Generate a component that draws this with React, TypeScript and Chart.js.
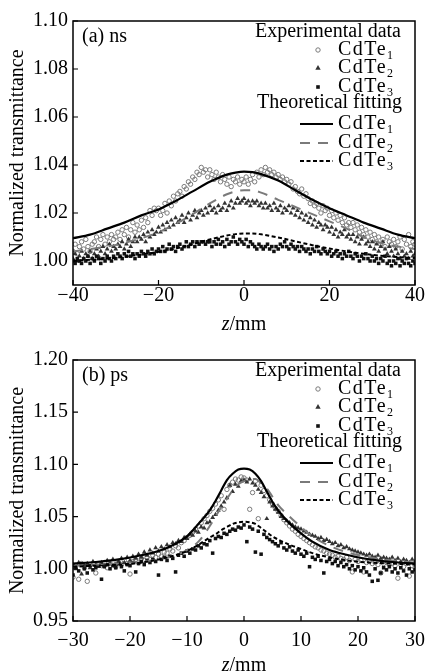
import React, { useEffect, useRef } from 'react';
import { Chart, registerables } from 'chart.js';
Chart.register(...registerables);

const FONT = '"Liberation Serif", "Times New Roman", serif';

// ---------- Panel (a): ns ----------
const zA = [
  -40, -39.5, -39, -38.5, -38, -37.5, -37, -36.5, -36, -35.5,
  -35, -34.5, -34, -33.5, -33, -32.5, -32, -31.5, -31, -30.5,
  -30, -29.5, -29, -28.5, -28, -27.5, -27, -26.5, -26, -25.5,
  -25, -24.5, -24, -23.5, -23, -22.5, -22, -21.5, -21, -20.5,
  -20, -19.5, -19, -18.5, -18, -17.5, -17, -16.5, -16, -15.5,
  -15, -14.5, -14, -13.5, -13, -12.5, -12, -11.5, -11, -10.5,
  -10, -9.5, -9, -8.5, -8, -7.5, -7, -6.5, -6, -5.5,
  -5, -4.5, -4, -3.5, -3, -2.5, -2, -1.5, -1, -0.5,
  0, 0.5, 1, 1.5, 2, 2.5, 3, 3.5, 4, 4.5,
  5, 5.5, 6, 6.5, 7, 7.5, 8, 8.5, 9, 9.5,
  10, 10.5, 11, 11.5, 12, 12.5, 13, 13.5, 14, 14.5,
  15, 15.5, 16, 16.5, 17, 17.5, 18, 18.5, 19, 19.5,
  20, 20.5, 21, 21.5, 22, 22.5, 23, 23.5, 24, 24.5,
  25, 25.5, 26, 26.5, 27, 27.5, 28, 28.5, 29, 29.5,
  30, 30.5, 31, 31.5, 32, 32.5, 33, 33.5, 34, 34.5,
  35, 35.5, 36, 36.5, 37, 37.5, 38, 38.5, 39, 39.5,
  40,
];
const expA1 = [
  1.004, 1.007, 1.003, 1.006, 1.008, 1.005, 1.009, 1.006, 1.004, 1.007,
  1.008, 1.010, 1.006, 1.009, 1.011, 1.007, 1.010, 1.008, 1.011, 1.009,
  1.010, 1.012, 1.009, 1.013, 1.011, 1.014, 1.010, 1.013, 1.016, 1.012,
  1.015, 1.013, 1.017, 1.014, 1.018, 1.016, 1.021, 1.019, 1.022, 1.021,
  1.022, 1.019, 1.021, 1.024, 1.020, 1.025, 1.023, 1.027, 1.025, 1.028,
  1.029, 1.027, 1.031, 1.030, 1.033, 1.032, 1.035, 1.034, 1.037, 1.036,
  1.039, 1.037, 1.038, 1.035, 1.038, 1.036, 1.034, 1.037, 1.035, 1.033,
  1.036, 1.034, 1.032, 1.035, 1.031, 1.034, 1.033, 1.035, 1.032, 1.034,
  1.033, 1.035, 1.032, 1.034, 1.036, 1.033, 1.037, 1.035, 1.038, 1.036,
  1.039, 1.037, 1.038, 1.036, 1.037, 1.035, 1.036, 1.034, 1.035, 1.033,
  1.034, 1.032, 1.033, 1.030, 1.031, 1.029, 1.028, 1.030, 1.027, 1.028,
  1.026, 1.024, 1.025, 1.023, 1.024, 1.022, 1.020, 1.023, 1.021, 1.022,
  1.019, 1.021, 1.018, 1.020, 1.017, 1.019, 1.016, 1.018, 1.015, 1.016,
  1.014, 1.016, 1.013, 1.015, 1.012, 1.014, 1.011, 1.013, 1.010, 1.012,
  1.009, 1.011, 1.008, 1.010, 1.007, 1.009, 1.006, 1.010, 1.008, 1.007,
  1.009, 1.006, 1.008, 1.010, 1.005, 1.009, 1.007, 1.011, 1.006, 1.008,
  1.007,
];
const expA2 = [
  1.001, 1.003, 1.000, 1.002, 1.004, 1.001, 1.003, 1.002, 1.004, 1.001,
  1.003, 1.005, 1.002, 1.004, 1.006, 1.003, 1.005, 1.007, 1.004, 1.006,
  1.005, 1.007, 1.006, 1.008, 1.005, 1.007, 1.009, 1.006, 1.008, 1.010,
  1.008, 1.010, 1.009, 1.011, 1.008, 1.012, 1.010, 1.013, 1.011, 1.012,
  1.014, 1.012, 1.015, 1.013, 1.016, 1.014, 1.017, 1.015, 1.018, 1.016,
  1.017, 1.019, 1.016, 1.018, 1.020, 1.017, 1.019, 1.021, 1.018, 1.020,
  1.021, 1.019, 1.022, 1.020, 1.023, 1.021, 1.022, 1.020, 1.023, 1.021,
  1.022, 1.024, 1.021, 1.023, 1.025, 1.022, 1.024, 1.026, 1.024, 1.025,
  1.026, 1.024, 1.025, 1.023, 1.025, 1.024, 1.025, 1.023, 1.024, 1.022,
  1.024, 1.022, 1.023, 1.021, 1.024, 1.022, 1.021, 1.023, 1.020, 1.022,
  1.021, 1.023, 1.020, 1.022, 1.019, 1.021, 1.018, 1.020, 1.017, 1.019,
  1.016, 1.018, 1.015, 1.017, 1.014, 1.016, 1.015, 1.013, 1.015, 1.014,
  1.012, 1.014, 1.011, 1.013, 1.010, 1.012, 1.011, 1.013, 1.010, 1.011,
  1.009, 1.011, 1.008, 1.010, 1.007, 1.009, 1.010, 1.007, 1.008, 1.006,
  1.008, 1.005, 1.007, 1.004, 1.006, 1.008, 1.005, 1.003, 1.006, 1.004,
  1.002, 1.005, 1.003, 1.001, 1.004, 1.002, 1.003, 1.001, 1.004, 1.002,
  1.003,
];
const expA3 = [
  1.000, 0.999, 1.001, 1.000, 0.999, 1.001, 1.000, 1.002, 0.999, 1.001,
  1.000, 1.002, 1.001, 0.999, 1.001, 1.000, 1.002, 1.001, 1.000, 1.002,
  1.001, 1.003, 1.002, 1.001, 1.003, 1.002, 1.004, 1.002, 1.003, 1.001,
  1.003, 1.002, 1.004, 1.003, 1.002, 1.004, 1.003, 1.005, 1.003, 1.004,
  1.005, 1.004, 1.006, 1.004, 1.005, 1.007, 1.005, 1.006, 1.004, 1.006,
  1.007, 1.005, 1.006, 1.008, 1.006, 1.007, 1.008, 1.006, 1.008, 1.007,
  1.008, 1.008, 1.007, 1.008, 1.008, 1.006, 1.008, 1.007, 1.009, 1.007,
  1.008, 1.006, 1.009, 1.007, 1.008, 1.010, 1.008, 1.007, 1.009, 1.008,
  1.007, 1.009, 1.006, 1.008, 1.007, 1.006, 1.005, 1.007, 1.006, 1.005,
  1.006, 1.007, 1.005, 1.006, 1.004, 1.006, 1.005, 1.007, 1.006, 1.008,
  1.006, 1.005, 1.007, 1.006, 1.005, 1.006, 1.004, 1.006, 1.005, 1.004,
  1.005, 1.003, 1.005, 1.004, 1.006, 1.004, 1.003, 1.005, 1.004, 1.003,
  1.004, 1.002, 1.003, 1.004, 1.002, 1.003, 1.001, 1.003, 1.002, 1.004,
  1.002, 1.001, 1.003, 1.002, 1.000, 1.002, 1.001, 1.003, 1.001, 1.000,
  1.002, 1.000, 1.001, 0.999, 1.001, 1.000, 1.002, 0.999, 1.000, 0.998,
  1.000, 0.999, 1.001, 0.998, 1.000, 0.999, 1.001, 0.999, 0.998, 1.000,
  0.999,
];
const fitZA = [-40, -36, -32, -28, -24, -20, -16, -12, -8, -4, -2, 0, 2, 4, 8, 12, 16, 20, 24, 28, 32, 36, 40];
const fitA1 = [1.0095, 1.011, 1.0135, 1.016, 1.019, 1.0215, 1.025, 1.029, 1.033, 1.036, 1.0368, 1.0372, 1.037, 1.0362, 1.0335, 1.0295, 1.0255, 1.022, 1.019, 1.016, 1.0135, 1.011, 1.0095];
const fitA2 = [1.004, 1.005, 1.006, 1.0075, 1.0095, 1.012, 1.0155, 1.0195, 1.024, 1.0278, 1.029, 1.0295, 1.0295, 1.0285, 1.0255, 1.0225, 1.0195, 1.0165, 1.0135, 1.010, 1.0075, 1.006, 1.005];
const fitA3 = [1.0, 1.0005, 1.001, 1.0018, 1.0027, 1.0038, 1.0052, 1.007, 1.009, 1.0106, 1.0112, 1.0115, 1.0115, 1.0111, 1.0098, 1.0082, 1.0066, 1.0052, 1.004, 1.003, 1.0022, 1.0016, 1.0012];
const xTicksA = [-40, -20, 0, 20, 40];
const yTicksA = [1.0, 1.02, 1.04, 1.06, 1.08, 1.1];

// ---------- Panel (b): ps ----------
const zB = [
  -30, -29.5, -29, -28.5, -28, -27.5, -27, -26.5, -26, -25.5,
  -25, -24.5, -24, -23.5, -23, -22.5, -22, -21.5, -21, -20.5,
  -20, -19.5, -19, -18.5, -18, -17.5, -17, -16.5, -16, -15.5,
  -15, -14.5, -14, -13.5, -13, -12.5, -12, -11.5, -11, -10.5,
  -10, -9.5, -9, -8.5, -8, -7.5, -7, -6.5, -6, -5.5,
  -5, -4.5, -4, -3.5, -3, -2.5, -2, -1.5, -1, -0.5,
  0, 0.5, 1, 1.5, 2, 2.5, 3, 3.5, 4, 4.5,
  5, 5.5, 6, 6.5, 7, 7.5, 8, 8.5, 9, 9.5,
  10, 10.5, 11, 11.5, 12, 12.5, 13, 13.5, 14, 14.5,
  15, 15.5, 16, 16.5, 17, 17.5, 18, 18.5, 19, 19.5,
  20, 20.5, 21, 21.5, 22, 22.5, 23, 23.5, 24, 24.5,
  25, 25.5, 26, 26.5, 27, 27.5, 28, 28.5, 29, 29.5,
  30,
];
const expB1 = [
  0.992, 1.003, 0.990, 1.005, 1.001, 0.988, 1.004, 1.002, 0.996, 1.004,
  1.003, 1.006, 1.001, 1.005, 1.007, 1.002, 1.006, 1.004, 1.008, 1.005,
  0.995, 1.007, 1.009, 1.006, 1.010, 1.008, 1.011, 1.009, 1.013, 1.011,
  1.014, 1.012, 1.016, 1.015, 1.019, 1.017, 1.022, 1.020, 1.025, 1.027,
  1.030, 1.032, 1.035, 1.038, 1.041, 1.044, 1.048, 1.051, 1.055, 1.058,
  1.062, 1.066, 1.070, 1.057, 1.076, 1.080, 1.083, 1.086, 1.085, 1.088,
  1.087, 1.085, 1.057, 1.073, 1.084, 1.048, 1.080, 1.075, 1.070, 1.066,
  1.062, 1.058, 1.055, 1.051, 1.047, 1.044, 1.041, 1.038, 1.036, 1.033,
  1.031, 1.029, 1.027, 1.025, 1.023, 1.021, 1.020, 1.018, 1.017, 1.015,
  1.014, 1.013, 1.011, 1.012, 1.010, 1.009, 1.011, 1.008, 0.997, 1.009,
  1.007, 1.008, 0.997, 1.006, 1.007, 1.005, 1.006, 1.004, 0.996, 1.005,
  1.006, 1.004, 1.005, 1.003, 0.991, 1.004, 1.002, 1.005, 0.993, 1.003,
  1.001,
];
const expB2 = [
  1.004, 1.000, 1.006, 0.995, 1.003, 1.005, 1.001, 1.007, 1.004, 1.002,
  1.006, 1.003, 1.008, 1.005, 1.009, 1.004, 1.007, 1.010, 1.006, 1.011,
  1.008, 1.012, 1.010, 1.014, 1.011, 1.016, 1.013, 1.018, 1.015, 1.020,
  1.017, 1.021, 1.019, 1.023, 1.021, 1.025, 1.024, 1.027, 1.026, 1.030,
  1.029, 1.033, 1.032, 1.036, 1.035, 1.040, 1.039, 1.044, 1.045, 1.049,
  1.052, 1.056, 1.060, 1.064, 1.068, 1.080, 1.074, 1.081, 1.079, 1.084,
  1.085, 1.083, 1.086, 1.082, 1.080, 1.076, 1.073, 1.069, 1.048, 1.064,
  1.060, 1.057, 1.054, 1.050, 1.048, 1.046, 1.044, 1.042, 1.040, 1.039,
  1.038, 1.036, 1.035, 1.033, 1.032, 1.031, 1.029, 1.030, 1.027, 1.028,
  1.026, 1.024, 1.025, 1.022, 1.023, 1.020, 1.021, 1.019, 1.018, 1.017,
  1.016, 1.015, 1.014, 1.013, 1.014, 1.012, 1.011, 1.013, 1.010, 1.011,
  1.010, 1.009, 1.011, 1.008, 1.010, 1.007, 1.009, 1.008, 1.006, 1.009,
  1.007,
];
const expB3 = [
  0.994, 1.002, 0.998, 1.004, 1.000, 0.996, 1.003, 0.999, 1.001, 1.003,
  0.990, 1.002, 1.004, 1.000, 1.003, 1.001, 1.005, 1.002, 0.998, 1.004,
  1.003, 1.006, 0.997, 1.005, 1.007, 1.004, 1.008, 1.006, 1.009, 1.007,
  0.994, 1.009, 1.011, 1.008, 1.012, 1.010, 0.997, 1.013, 1.015, 1.012,
  1.017, 1.015, 1.019, 1.018, 1.022, 1.020, 1.024, 1.023, 1.027, 1.015,
  1.029, 1.031, 1.030, 1.034, 1.033, 1.036, 1.038, 1.037, 1.040, 1.039,
  1.042, 1.026, 1.040, 1.038, 1.016, 1.036, 1.014, 1.033, 1.030, 1.028,
  1.026, 1.024, 1.022, 1.025, 1.020, 1.018, 1.021, 1.017, 1.015, 1.018,
  1.014, 1.012, 1.015, 1.002, 1.011, 1.009, 1.012, 1.008, 0.996, 1.007,
  1.009, 1.005, 1.007, 1.003, 1.006, 1.002, 1.004, 1.000, 1.003, 0.999,
  1.002, 0.998, 1.001, 0.997, 0.994, 0.988, 1.000, 0.989, 0.996, 1.001,
  0.999, 1.002, 0.997, 1.000, 0.996, 1.001, 0.998, 0.994, 1.000, 0.997,
  0.999,
];
const fitZB = [-30, -26, -22, -18, -15, -12, -10, -8, -6, -5, -4, -3, -2, -1, 0, 1, 2, 3, 4, 5, 6, 8, 10, 12, 15, 18, 22, 26, 30];
const fitB1 = [1.005, 1.0065, 1.009, 1.013, 1.017, 1.024, 1.031, 1.043, 1.056, 1.065, 1.075, 1.085, 1.091, 1.095, 1.096, 1.095, 1.091, 1.084, 1.074, 1.064, 1.056, 1.0435, 1.034, 1.026, 1.018, 1.0135, 1.009, 1.0065, 1.005];
const fitB2 = [1.003, 1.004, 1.005, 1.007, 1.009, 1.013, 1.018, 1.026, 1.041, 1.05, 1.059, 1.067, 1.075, 1.081, 1.084, 1.086, 1.086, 1.082, 1.077, 1.069, 1.061, 1.05, 1.04, 1.031, 1.022, 1.016, 1.011, 1.008, 1.006];
const fitB3 = [1.002, 1.003, 1.004, 1.006, 1.009, 1.013, 1.017, 1.023, 1.03, 1.033, 1.037, 1.04, 1.043, 1.0445, 1.045, 1.0445, 1.043, 1.039, 1.035, 1.031, 1.028, 1.023, 1.019, 1.015, 1.011, 1.008, 1.006, 1.005, 1.004];
const xTicksB = [-30, -20, -10, 0, 10, 20, 30];
const yTicksB = [0.95, 1.0, 1.05, 1.1, 1.15, 1.2];

const seriesNames = ['CdTe', 'CdTe', 'CdTe'];
const seriesSubs = ['1', '2', '3'];

const pts = (xs: number[], ys: number[]) => xs.map((x, i) => ({ x, y: ys[i] }));

const C_GRAY = '#7a7a7a';
const C_TRI = '#333333';
const C_SQ = '#111111';

function drawMarker(ctx: CanvasRenderingContext2D, kind: number, x: number, y: number) {
  ctx.save();
  if (kind === 0) {
    ctx.strokeStyle = C_GRAY;
    ctx.lineWidth = 1;
    ctx.beginPath();
    ctx.arc(x, y, 2.2, 0, Math.PI * 2);
    ctx.stroke();
  } else if (kind === 1) {
    ctx.fillStyle = C_TRI;
    ctx.beginPath();
    ctx.moveTo(x, y - 3);
    ctx.lineTo(x + 2.7, y + 1.8);
    ctx.lineTo(x - 2.7, y + 1.8);
    ctx.closePath();
    ctx.fill();
  } else {
    ctx.fillStyle = C_SQ;
    ctx.fillRect(x - 1.8, y - 1.8, 3.6, 3.6);
  }
  ctx.restore();
}

function drawSub(ctx: CanvasRenderingContext2D, name: string, sub: string, x: number, y: number) {
  ctx.save();
  ctx.font = `20px ${FONT}`;
  ctx.textAlign = 'left';
  ctx.textBaseline = 'middle';
  (ctx as any).letterSpacing = '1.5px';
  ctx.fillText(name, x, y);
  const w = ctx.measureText(name).width;
  (ctx as any).letterSpacing = '0px';
  ctx.font = `12px ${FONT}`;
  ctx.fillText(sub, x + w, y + 6);
  ctx.restore();
}

function makePlugin(label: string, titleGap: number) {
  return {
    id: 'decor',
    afterDraw(chart: any) {
      const { ctx, chartArea: a, scales } = chart;
      ctx.save();
      ctx.strokeStyle = '#000';
      ctx.lineWidth = 1.5;
      ctx.strokeRect(a.left, a.top, a.right - a.left, a.bottom - a.top);
      ctx.lineWidth = 1.2;
      ctx.beginPath();
      scales.x.ticks.forEach((t: any) => {
        const px = scales.x.getPixelForValue(t.value);
        ctx.moveTo(px, a.bottom);
        ctx.lineTo(px, a.bottom - 5);
      });
      scales.y.ticks.forEach((t: any) => {
        const py = scales.y.getPixelForValue(t.value);
        ctx.moveTo(a.left, py);
        ctx.lineTo(a.left + 5, py);
      });
      ctx.stroke();

      ctx.fillStyle = '#000';
      ctx.font = `20px ${FONT}`;
      ctx.textBaseline = 'middle';
      ctx.textAlign = 'left';
      ctx.fillText(label, a.left + 9, a.top + 16);

      // legend
      const R = a.right;
      const T = a.top;
      ctx.textAlign = 'right';
      ctx.fillText('Experimental data', R - 14, T + 11);
      const expRows = [T + 29, T + 47, T + 66];
      expRows.forEach((y, i) => {
        drawMarker(ctx, i, R - 97, y);
        ctx.fillStyle = '#000';
        drawSub(ctx, seriesNames[i], seriesSubs[i], R - 77, y);
      });
      ctx.font = `20px ${FONT}`;
      ctx.textAlign = 'right';
      ctx.textBaseline = 'middle';
      ctx.fillStyle = '#000';
      ctx.fillText('Theoretical fitting', R - 13, T + 82);
      const fitRows = [T + 103, T + 122, T + 140];
      const lineStyles = [
        { c: '#000', d: [] as number[], w: 2.2 },
        { c: C_GRAY, d: [10, 8], w: 2 },
        { c: '#000', d: [4, 2.5], w: 2 },
      ];
      fitRows.forEach((y, i) => {
        ctx.save();
        ctx.strokeStyle = lineStyles[i].c;
        ctx.lineWidth = lineStyles[i].w;
        ctx.setLineDash(lineStyles[i].d);
        ctx.beginPath();
        ctx.moveTo(R - 115, y);
        ctx.lineTo(R - 82, y);
        ctx.stroke();
        ctx.restore();
        ctx.fillStyle = '#000';
        drawSub(ctx, seriesNames[i], seriesSubs[i], R - 77, y);
      });

      // y title
      ctx.save();
      ctx.font = `20px ${FONT}`;
      ctx.textAlign = 'center';
      ctx.textBaseline = 'middle';
      ctx.translate(18, (a.top + a.bottom) / 2);
      ctx.rotate(-Math.PI / 2);
      ctx.fillText('Normalized transmittance', 0, 0);
      ctx.restore();

      // x title: italic z + /mm
      const cx = (a.left + a.right) / 2;
      const ty = a.bottom + titleGap;
      ctx.textBaseline = 'middle';
      ctx.textAlign = 'left';
      ctx.font = `italic 20px ${FONT}`;
      const wz = ctx.measureText('z').width;
      ctx.font = `20px ${FONT}`;
      const wr = ctx.measureText('/mm').width;
      const x0 = cx - (wz + wr) / 2;
      ctx.font = `italic 20px ${FONT}`;
      ctx.fillText('z', x0, ty);
      ctx.font = `20px ${FONT}`;
      ctx.fillText('/mm', x0 + wz, ty);
      ctx.restore();
    },
  };
}

function buildConfig(p: {
  label: string; zs: number[]; e1: number[]; e2: number[]; e3: number[];
  fz: number[]; f1: number[]; f2: number[]; f3: number[];
  xMin: number; xMax: number; xTicks: number[];
  yMin: number; yMax: number; yTicks: number[]; top: number; xPad: number; titleGap: number;
}): any {
  const lineDs = (data: number[], color: string, dash: number[], w: number) => ({
    data: pts(p.fz, data),
    showLine: true,
    borderColor: color,
    borderWidth: w,
    borderDash: dash,
    pointRadius: 0,
    cubicInterpolationMode: 'monotone',
    fill: false,
  });
  return {
    type: 'scatter',
    data: {
      datasets: [
        lineDs(p.f1, '#000', [], 2.2),
        lineDs(p.f3, '#000', [4, 2.5], 2),
        lineDs(p.f2, C_GRAY, [10, 8], 2),
        { data: pts(p.zs, p.e3), pointStyle: 'rect', pointRadius: 2.5, backgroundColor: C_SQ, borderColor: C_SQ, borderWidth: 0 },
        { data: pts(p.zs, p.e2), pointStyle: 'triangle', pointRadius: 2.8, backgroundColor: C_TRI, borderColor: C_TRI, borderWidth: 0 },
        { data: pts(p.zs, p.e1), pointStyle: 'circle', pointRadius: 2.2, backgroundColor: 'rgba(255,255,255,0)', borderColor: C_GRAY, borderWidth: 1 },
      ],
    },
    options: {
      responsive: false,
      animation: false,
      events: [],
      layout: { padding: { top: p.top, right: 11, left: 0, bottom: 0 } },
      plugins: { legend: { display: false }, tooltip: { enabled: false } },
      scales: {
        x: {
          type: 'linear',
          min: p.xMin,
          max: p.xMax,
          afterBuildTicks: (s: any) => { s.ticks = p.xTicks.map((v) => ({ value: v })); },
          afterFit: (s: any) => { s.height = 51; s.paddingLeft = 0; s.paddingRight = 0; },
          grid: { display: false, drawTicks: false },
          border: { display: false },
          ticks: {
            color: '#000',
            font: { family: FONT, size: 20 },
            padding: p.xPad,
            maxRotation: 0,
            callback: (v: number) => (v < 0 ? '\u2212' + Math.abs(v) : String(v)),
          },
        },
        y: {
          type: 'linear',
          min: p.yMin,
          max: p.yMax,
          afterBuildTicks: (s: any) => { s.ticks = p.yTicks.map((v) => ({ value: v })); },
          afterFit: (s: any) => { s.width = 73; },
          grid: { display: false, drawTicks: false },
          border: { display: false },
          ticks: {
            color: '#000',
            font: { family: FONT, size: 20 },
            padding: 5,
            callback: (v: number) => v.toFixed(2),
          },
        },
      },
    },
    plugins: [makePlugin(p.label, p.titleGap)],
  };
}

export default function App() {
  const refA = useRef<HTMLCanvasElement>(null);
  const refB = useRef<HTMLCanvasElement>(null);
  useEffect(() => {
    document.body.style.margin = '0';
    const ca = new Chart(refA.current as HTMLCanvasElement, buildConfig({
      label: '(a) ns', zs: zA, e1: expA1, e2: expA2, e3: expA3,
      fz: fitZA, f1: fitA1, f2: fitA2, f3: fitA3,
      xMin: -40, xMax: 40, xTicks: xTicksA, yMin: 0.99, yMax: 1.1, yTicks: yTicksA, top: 21,
      xPad: -1, titleGap: 40,
    }));
    const cb = new Chart(refB.current as HTMLCanvasElement, buildConfig({
      label: '(b) ps', zs: zB, e1: expB1, e2: expB2, e3: expB3,
      fz: fitZB, f1: fitB1, f2: fitB2, f3: fitB3,
      xMin: -30, xMax: 30, xTicks: xTicksB, yMin: 0.95, yMax: 1.2, yTicks: yTicksB, top: 24,
      xPad: 8, titleGap: 45,
    }));
    return () => { ca.destroy(); cb.destroy(); };
  }, []);
  return (
    <div style={{ width: 426, height: 672, background: '#fff' }}>
      <canvas ref={refA} width={426} height={336} style={{ display: 'block' }} />
      <canvas ref={refB} width={426} height={336} style={{ display: 'block' }} />
    </div>
  );
}
